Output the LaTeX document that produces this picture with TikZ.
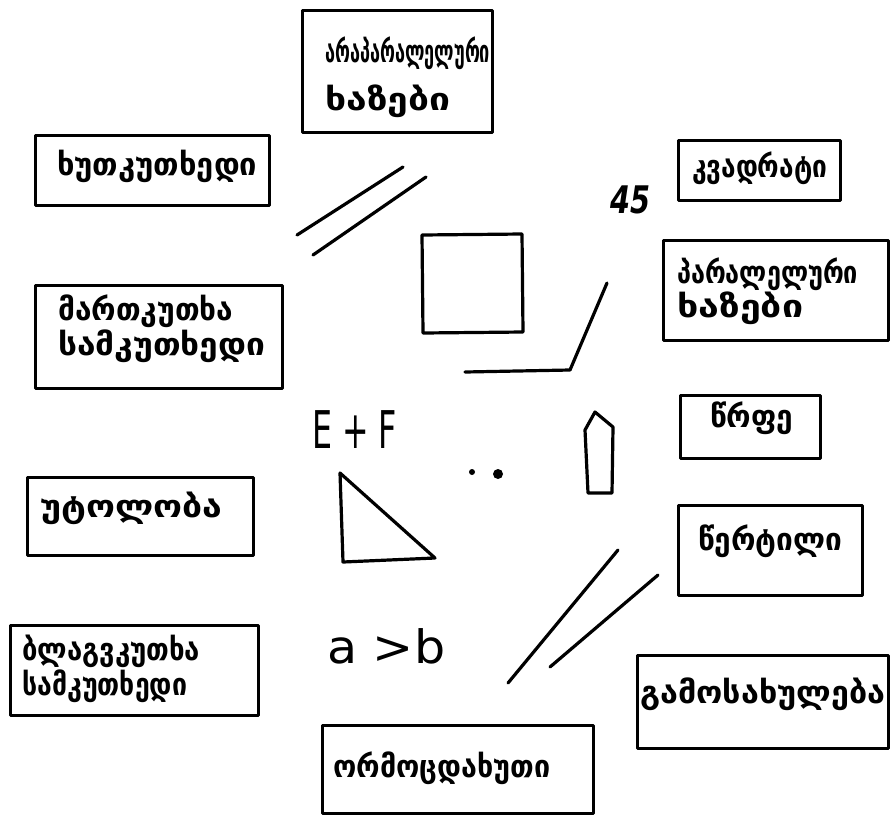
\documentclass[tikz,border=0pt]{standalone}
\usepackage{fontspec}
\usepackage{graphicx}
\newfontfamily\geofont{DejaVu Sans}
\newcommand{\geow}[2]{\resizebox{#1pt}{\height}{#2}}
\begin{document}
\begin{tikzpicture}[x=1pt,y=-1pt,line join=round,line cap=round,
  box/.style={draw,line width=3pt,inner sep=0pt},
  geotext/.style={anchor=base west,inner sep=0pt,font=\geofont\bfseries\fontsize{31}{33}\selectfont},
  figline/.style={line width=3.2pt},
  sym/.style={anchor=base west,inner sep=0pt}]
\useasboundingbox[fill=white] (0,0) rectangle (893,825);

% boxes
\node[box,minimum width=190pt,minimum height=122pt] (b1) at (397,71) {};
\node[box,minimum width=234pt,minimum height=70pt] (b2) at (152,170) {};
\node[box,minimum width=162pt,minimum height=60pt] (b3) at (759,170) {};
\node[box,minimum width=225pt,minimum height=100pt] (b4) at (775.5,290) {};
\node[box,minimum width=247pt,minimum height=103pt] (b5) at (158.5,336.5) {};
\node[box,minimum width=140pt,minimum height=63pt] (b6) at (750,426.5) {};
\node[box,minimum width=226pt,minimum height=78pt] (b7) at (140,516) {};
\node[box,minimum width=184pt,minimum height=90pt] (b8) at (770,550) {};
\node[box,minimum width=248pt,minimum height=90pt] (b9) at (134,670) {};
\node[box,minimum width=251pt,minimum height=93pt] (b10) at (762.5,701.5) {};
\node[box,minimum width=271pt,minimum height=88pt] (b11) at (457.5,769) {};

% texts
\node[geotext] (t1a) at (325,62) {\geow{165}{არაპარალელური}};
\node[geotext] (t1b) at (325,110) {\geow{125}{ხაზები}};
\node[geotext] (t2) at (57,175) {\geow{200}{ხუთკუთხედი}};
\node[geotext] (t3) at (692,177) {\geow{135}{კვადრატი}};
\node[geotext] (t4a) at (677,283) {\geow{181}{პარალელური}};
\node[geotext] (t4b) at (677,317) {\geow{126}{ხაზები}};
\node[geotext] (t5a) at (58,320) {\geow{175}{მართკუთხა}};
\node[geotext] (t5b) at (58,355) {\geow{207}{სამკუთხედი}};
\node[geotext] (t6) at (710,427) {\geow{83}{წრფე}};
\node[geotext] (t7) at (40,517) {\geow{182}{უტოლობა}};
\node[geotext] (t8) at (698,550) {\geow{144}{წერტილი}};
\node[geotext] (t9a) at (22,660) {\geow{178}{ბლაგვკუთხა}};
\node[geotext] (t9b) at (22,695) {\geow{165}{სამკუთხედი}};
\node[geotext] (t10) at (640,703) {\geow{245}{გამოსახულება}};
\node[geotext] (t11) at (333,777) {\geow{217}{ორმოცდახუთი}};

% symbols
\node[sym,font=\geofont\bfseries\itshape\fontsize{38}{40}\selectfont] (n45) at (610,213) {\geow{40}{45}};
\node[sym,font=\geofont\fontsize{52}{54}\selectfont] (ef) at (312,448) {\geow{85}{E + F}};
\node[sym,font=\geofont\fontsize{46}{48}\selectfont] (ab) at (327,663) {\geow{118}{a >b}};

% figures
\draw[figline] (297,235) -- (403,167);
\draw[figline] (313,255) -- (426,177);
\draw[figline] (422,235) -- (522,234) -- (523,332) -- (423,333) -- cycle;
\draw[figline] (465,372) -- (570,370) -- (607,283);
\draw[figline] (585,430) -- (595,412) -- (613,427) -- (612,493) -- (588,493) -- cycle;
\draw[figline] (340,473) -- (343,562) -- (435,558) -- cycle;
\fill (472,472) circle (3pt);
\fill (498,474) circle (5pt);
\draw[figline] (508,683) -- (618,550);
\draw[figline] (550,667) -- (658,575);
\end{tikzpicture}
\end{document}
